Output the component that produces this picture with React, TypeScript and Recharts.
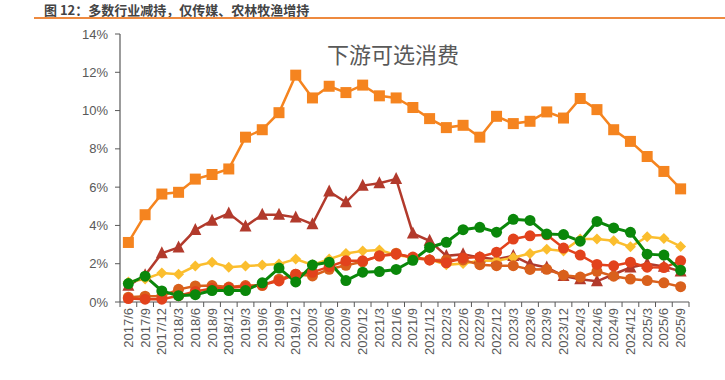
import React from 'react';
import { LineChart, Line, XAxis, YAxis } from 'recharts';

const categories = [
  '2017/6', '2017/9', '2017/12',
  '2018/3', '2018/6', '2018/9', '2018/12',
  '2019/3', '2019/6', '2019/9', '2019/12',
  '2020/3', '2020/6', '2020/9', '2020/12',
  '2021/3', '2021/6', '2021/9', '2021/12',
  '2022/3', '2022/6', '2022/9', '2022/12',
  '2023/3', '2023/6', '2023/9', '2023/12',
  '2024/3', '2024/6', '2024/9', '2024/12',
  '2025/3', '2025/6', '2025/9',
];

const orangeSquares = [3.11, 4.56, 5.64, 5.73, 6.42, 6.66, 6.95, 8.61, 9.0, 9.89, 11.85, 10.66, 11.27, 10.94, 11.33, 10.77, 10.66, 10.16, 9.58, 9.11, 9.23, 8.61, 9.7, 9.32, 9.44, 9.93, 9.61, 10.63, 10.05, 9.0, 8.39, 7.6, 6.82, 5.91];
const brownTriangles = [0.85, 1.4, 2.55, 2.85, 3.76, 4.25, 4.63, 3.95, 4.56, 4.56, 4.42, 4.07, 5.77, 5.21, 6.08, 6.2, 6.43, 3.58, 3.2, 2.41, 2.5, 2.32, 2.24, 2.41, 1.98, 1.8, 1.36, 1.19, 1.08, 1.45, 1.8, 2.0, 1.85, 1.6];
const yellowDiamonds = [1.05, 1.2, 1.52, 1.45, 1.88, 2.08, 1.82, 1.88, 1.93, 1.98, 2.24, 1.94, 2.24, 2.53, 2.67, 2.71, 2.46, 2.32, 2.24, 1.94, 2.01, 2.15, 2.15, 2.32, 2.53, 2.76, 2.67, 3.29, 3.29, 3.2, 2.88, 3.41, 3.32, 2.9];
const darkOrangeCircles = [0.25, 0.3, 0.3, 0.66, 0.84, 0.86, 0.78, 0.86, 0.86, 1.19, 1.45, 1.36, 1.71, 1.92, 2.1, 2.41, 2.55, 2.3, 2.2, 2.2, 2.2, 1.95, 1.9, 1.9, 1.7, 1.71, 1.4, 1.3, 1.6, 1.35, 1.2, 1.12, 1.0, 0.8];
const redCircles = [0.18, 0.15, 0.15, 0.33, 0.55, 0.7, 0.75, 0.8, 0.9, 1.1, 1.45, 1.55, 1.85, 2.15, 2.15, 2.4, 2.5, 2.35, 2.2, 2.05, 2.3, 2.35, 2.6, 3.29, 3.46, 3.51, 2.82, 2.45, 1.96, 1.89, 2.08, 1.82, 1.8, 2.15];
const greenCircles = [0.96, 1.35, 0.58, 0.33, 0.38, 0.6, 0.6, 0.6, 1.0, 1.77, 1.05, 1.93, 2.08, 1.12, 1.56, 1.59, 1.7, 2.18, 2.85, 3.12, 3.78, 3.9, 3.65, 4.32, 4.26, 3.55, 3.52, 3.18, 4.21, 3.87, 3.64, 2.5, 2.45, 1.66];

const yTicks = [0, 2, 4, 6, 8, 10, 12, 14];

const data = categories.map((c, i) => ({
  cat: c,
  a: orangeSquares[i],
  b: brownTriangles[i],
  c: yellowDiamonds[i],
  d: darkOrangeCircles[i],
  e: redCircles[i],
  f: greenCircles[i],
}));

const W = 725;
const H = 380;
const PLOT_LEFT = 120;
const PLOT_RIGHT = 689;
const PLOT_TOP = 34;
const PLOT_BOTTOM = 302;
const BAND = (PLOT_RIGHT - PLOT_LEFT) / categories.length;
const AXIS_COLOR = '#595959';
const TEXT_COLOR = '#595959';
const FONT = '"Liberation Sans", Arial, sans-serif';

const XTick = (props: any) => {
  const { x, payload, index } = props;
  const axisY = PLOT_BOTTOM;
  const isLast = index === categories.length - 1;
  return (
    <g>
      <line x1={x - BAND / 2} x2={x - BAND / 2} y1={axisY} y2={axisY + 5} stroke={AXIS_COLOR} strokeWidth={1} />
      {isLast && (
        <line x1={x + BAND / 2} x2={x + BAND / 2} y1={axisY} y2={axisY + 5} stroke={AXIS_COLOR} strokeWidth={1} />
      )}
      <text
        x={x}
        y={axisY + 6}
        transform={`rotate(-90, ${x}, ${axisY + 6})`}
        textAnchor="end"
        dy="0.35em"
        fill={TEXT_COLOR}
        fontSize={13}
        fontFamily={FONT}
      >
        {payload.value}
      </text>
    </g>
  );
};

const squareDot = (color: string, s: number) => (p: any) => (
  <rect key={`sq-${p.index}`} x={p.cx - s / 2} y={p.cy - s / 2} width={s} height={s} fill={color} />
);
const triangleDot = (color: string, s: number) => (p: any) => (
  <polygon
    key={`tr-${p.index}`}
    points={`${p.cx},${p.cy - s * 0.58} ${p.cx - s / 2},${p.cy + s * 0.42} ${p.cx + s / 2},${p.cy + s * 0.42}`}
    fill={color}
  />
);
const diamondDot = (color: string, s: number) => (p: any) => (
  <polygon
    key={`dm-${p.index}`}
    points={`${p.cx},${p.cy - s / 2} ${p.cx + s / 2},${p.cy} ${p.cx},${p.cy + s / 2} ${p.cx - s / 2},${p.cy}`}
    fill={color}
  />
);
const circleDot = (color: string, r: number, k: string) => (p: any) => (
  <circle key={`${k}-${p.index}`} cx={p.cx} cy={p.cy} r={r} fill={color} />
);

export default function App() {
  return (
    <div style={{ position: 'absolute', left: 0, top: 0, width: W, height: H, background: '#fff' }}>
      <div
        style={{
          position: 'absolute',
          left: 44,
          top: 0,
          fontSize: 13,
          lineHeight: 'normal',
          fontWeight: 'bold',
          color: '#444',
          fontFamily: '"Noto Sans CJK SC", sans-serif',
          whiteSpace: 'nowrap',
        }}
      >
        图 12：多数行业减持，仅传媒、农林牧渔增持
      </div>
      <div style={{ position: 'absolute', left: 34, top: 17, width: W - 34, height: 2, background: '#EE8A3F' }} />
      <div
        style={{
          position: 'absolute',
          left: 393 - 100,
          top: 41,
          width: 200,
          textAlign: 'center',
          fontSize: 22,
          lineHeight: '24px',
          color: TEXT_COLOR,
          fontFamily: '"Noto Sans CJK SC", sans-serif',
        }}
      >
        下游可选消费
      </div>
      <LineChart
        width={W}
        height={H}
        data={data}
        margin={{ top: PLOT_TOP, right: W - PLOT_RIGHT, bottom: 0, left: 0 }}
      >
        <XAxis
          dataKey="cat"
          interval={0}
          height={H - PLOT_BOTTOM}
          padding={{ left: BAND / 2, right: BAND / 2 }}
          tickLine={false}
          axisLine={{ stroke: AXIS_COLOR, strokeWidth: 1.2 }}
          tick={<XTick />}
        />
        <YAxis
          width={PLOT_LEFT}
          domain={[0, 14]}
          ticks={yTicks}
          interval={0}
          tickFormatter={(v: number) => `${v}%`}
          tickSize={5}
          tickMargin={7}
          tickLine={{ stroke: AXIS_COLOR }}
          axisLine={{ stroke: AXIS_COLOR, strokeWidth: 1.2 }}
          tick={{ fill: TEXT_COLOR, fontSize: 13, fontFamily: FONT }}
        />
        <Line dataKey="a" stroke="#F5841F" strokeWidth={2.5} isAnimationActive={false} dot={squareDot('#F5841F', 11)} activeDot={false} />
        <Line dataKey="b" stroke="#B23A2C" strokeWidth={2.5} isAnimationActive={false} dot={triangleDot('#B23A2C', 12)} activeDot={false} />
        <Line dataKey="c" stroke="#FBBE2E" strokeWidth={2.5} isAnimationActive={false} dot={diamondDot('#FBBE2E', 11)} activeDot={false} />
        <Line dataKey="d" stroke="#D9601C" strokeWidth={2.5} isAnimationActive={false} dot={circleDot('#D9601C', 5.5, 'do')} activeDot={false} />
        <Line dataKey="e" stroke="#E2421C" strokeWidth={2.5} isAnimationActive={false} dot={circleDot('#E2421C', 5.5, 're')} activeDot={false} />
        <Line dataKey="f" stroke="#0A870A" strokeWidth={3} isAnimationActive={false} dot={circleDot('#0A870A', 5.5, 'gr')} activeDot={false} />
      </LineChart>
    </div>
  );
}
